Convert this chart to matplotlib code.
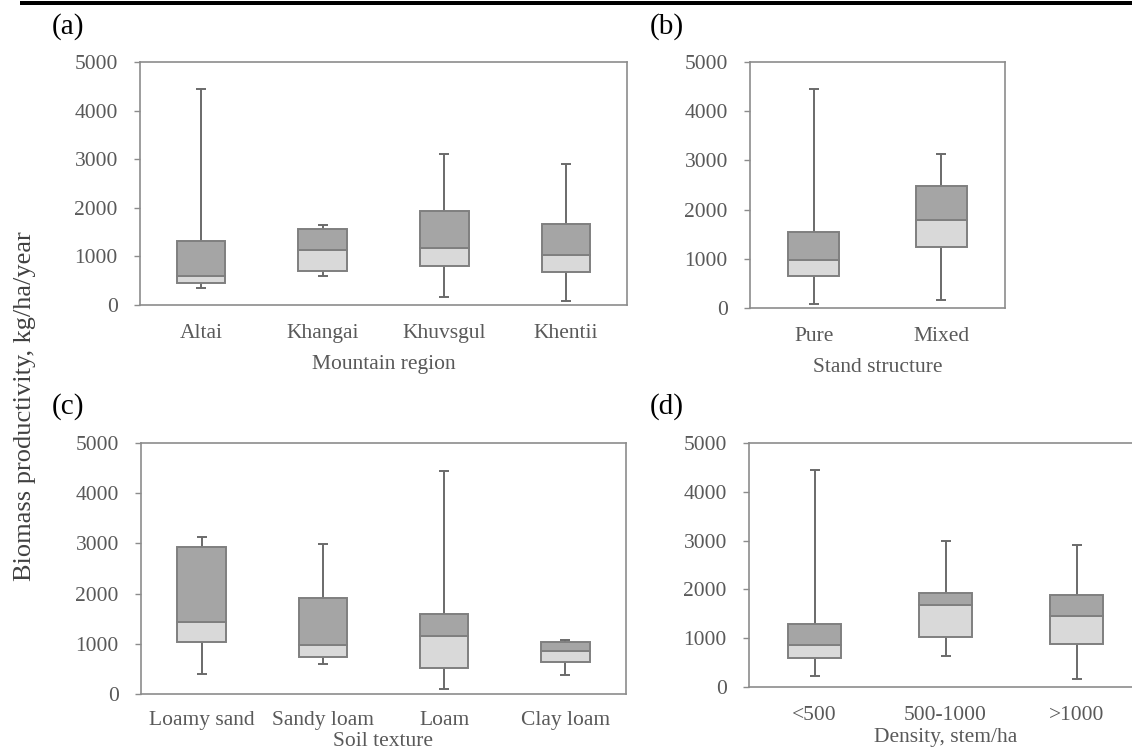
import matplotlib
matplotlib.use("Agg")
import matplotlib.pyplot as plt
import numpy as np
from matplotlib.patches import Rectangle

plt.rcParams['font.family'] = ['Liberation Serif', 'DejaVu Serif']

# Five-number summaries of biomass productivity (kg/ha/year) per group
region_labels = ["Altai", "Khangai", "Khuvsgul", "Khentii"]
region_min = [340, 590, 165, 90]
region_q1 = [450, 705, 800, 680]
region_median = [595, 1125, 1170, 1030]
region_q3 = [1320, 1570, 1930, 1670]
region_max = [4450, 1650, 3115, 2910]

stand_labels = ["Pure", "Mixed"]
stand_min = [75, 165]
stand_q1 = [655, 1245]
stand_median = [975, 1790]
stand_q3 = [1545, 2485]
stand_max = [4450, 3120]

soil_labels = ["Loamy sand", "Sandy loam", "Loam", "Clay loam"]
soil_min = [400, 600, 100, 385]
soil_q1 = [1030, 735, 525, 630]
soil_median = [1435, 975, 1150, 865]
soil_q3 = [2920, 1905, 1600, 1035]
soil_max = [3120, 2995, 4435, 1080]

density_labels = ["<500", "500-1000", ">1000"]
density_min = [225, 640, 165]
density_q1 = [595, 1015, 880]
density_median = [855, 1680, 1455]
density_q3 = [1290, 1930, 1890]
density_max = [4440, 2990, 2905]

y_ticks = [0, 1000, 2000, 3000, 4000, 5000]

DARK = "#a5a5a5"
LIGHT = "#d9d9d9"
EDGE = "#7f7f7f"
WHISKER = "#6a6a6a"
SPINE = "#8c8c8c"
TEXT = "#595959"

W, H = 1132, 756
fig = plt.figure(figsize=(W / 100, H / 100), dpi=100)


def axes_px(x0, y0, x1, y1):
    """Add axes given pixel box (left, top, right, bottom)."""
    return fig.add_axes([x0 / W, 1 - y1 / H, (x1 - x0) / W, (y1 - y0) / H])


def draw_panel(ax, labels, vmin, q1, med, q3, vmax, xlabel, tag, tag_xy,
               tick_pad=14, label_pad=8):
    x = np.arange(len(labels))
    vmin, q1, med, q3, vmax = (np.asarray(v, float) for v in (vmin, q1, med, q3, vmax))
    ax.errorbar(x, med, yerr=[med - vmin, vmax - med], fmt='none',
                ecolor=WHISKER, elinewidth=1.4, capsize=3.5, capthick=1.4, zorder=1)
    ax.bar(x, med - q1, bottom=q1, width=0.4, color=LIGHT,
           edgecolor=EDGE, linewidth=1.4, zorder=2)
    ax.bar(x, q3 - med, bottom=med, width=0.4, color=DARK,
           edgecolor=EDGE, linewidth=1.4, zorder=2)
    ax.set_xlim(-0.5, len(labels) - 0.5)
    ax.set_ylim(0, 5000)
    ax.set_yticks(y_ticks)
    ax.set_xticks(x)
    ax.set_xticklabels(labels)
    ax.tick_params(axis='x', length=0, pad=tick_pad, labelsize=15.5, labelcolor=TEXT)
    ax.tick_params(axis='y', length=4, width=1, color=SPINE, direction='out',
                   pad=12, labelsize=15.5, labelcolor=TEXT)
    for s in ax.spines.values():
        s.set_color(SPINE)
        s.set_linewidth(1.2)
    ax.set_xlabel(xlabel, fontsize=15.5, color=TEXT, labelpad=label_pad)
    fig.text(tag_xy[0] / W, 1 - tag_xy[1] / H, tag, fontsize=21,
             color="black", ha="left", va="top")


ax_a = axes_px(140, 62, 627, 305)
draw_panel(ax_a, region_labels, region_min, region_q1, region_median,
           region_q3, region_max, "Mountain region", "(a)", (52, 13))

ax_b = axes_px(750, 62, 1005, 308)
draw_panel(ax_b, stand_labels, stand_min, stand_q1, stand_median,
           stand_q3, stand_max, "Stand structure", "(b)", (650, 13))

ax_c = axes_px(141, 443, 626, 694)
draw_panel(ax_c, soil_labels, soil_min, soil_q1, soil_median,
           soil_q3, soil_max, "Soil texture", "(c)", (52, 393),
           tick_pad=12, label_pad=2)

ax_d = axes_px(749, 443, 1142, 687)
draw_panel(ax_d, density_labels, density_min, density_q1, density_median,
           density_q3, density_max, "Density, stem/ha", "(d)", (650, 393),
           tick_pad=14, label_pad=2)

fig.text(25 / W, 1 - 406 / H, "Biomass productivity, kg/ha/year",
         rotation=90, ha="center", va="center", fontsize=19, color="#404040")

# heavy rule across the top of the figure
fig.add_artist(Rectangle((20 / W, 1 - 5 / H), 1 - 20 / W, 4 / H,
                         transform=fig.transFigure, color="black", lw=0))

fig.savefig("out.png", dpi=100)
